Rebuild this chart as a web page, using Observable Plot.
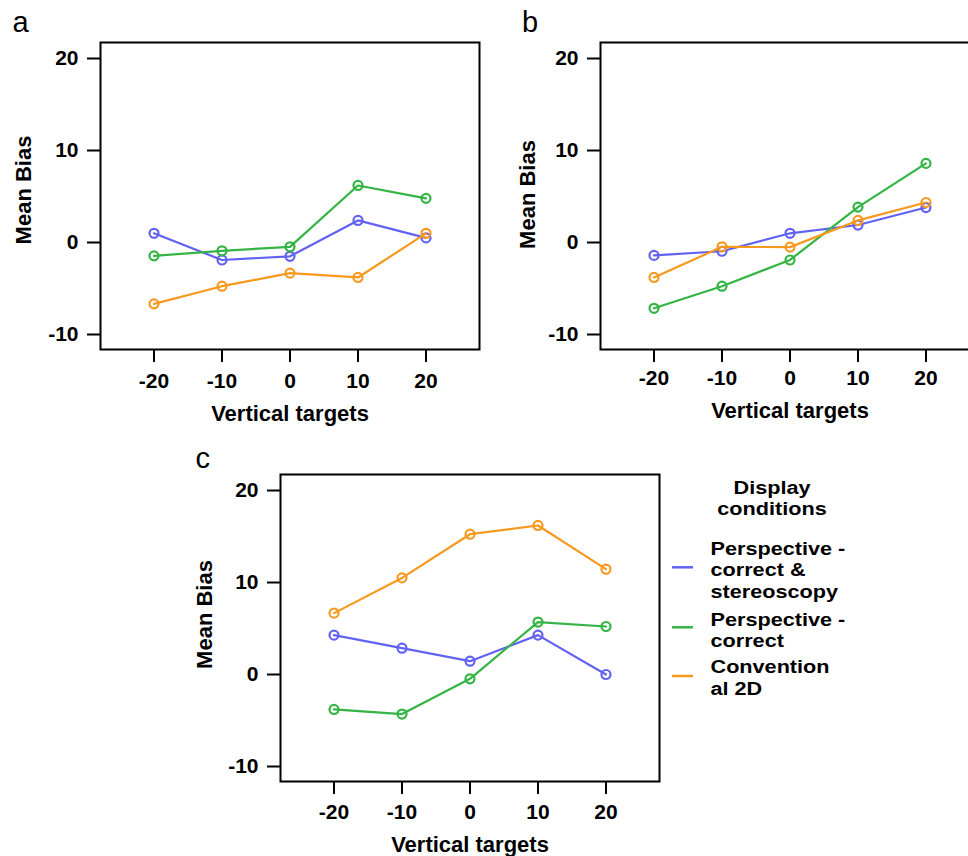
<!DOCTYPE html>
<html><head><meta charset="utf-8">
<script src="https://cdn.jsdelivr.net/npm/d3@7"></script>
<script src="https://cdn.jsdelivr.net/npm/@observablehq/plot@0.6"></script>
<style>
html,body{margin:0;padding:0;background:#fff;}
#root{position:relative;width:968px;height:856px;overflow:hidden;background:#fff;font-family:'Liberation Sans',Arial,sans-serif;}
.panel{position:absolute;width:500px;}
</style></head><body><div id="root"></div>
<script>
// ---- data ----
const xTargets = [-20, -10, 0, 10, 20];
const xTickLabels = ["-20", "-10", "0", "10", "20"];
const yTicks = [-10, 0, 10, 20];
const yTickLabels = ["-10", "0", "10", "20"];
const xAxisLabel = "Vertical targets";
const yAxisLabel = "Mean Bias";
const panelLetters = ["a", "b", "c"];
const seriesNames = ["Perspective - correct & stereoscopy", "Perspective - correct", "Conventional 2D"];
const seriesColors = ["#6262f2", "#34b444", "#f7991f"];
const legendTitle = ["Display", "conditions"];
const legendLabelLines = [["Perspective -", "correct &", "stereoscopy"], ["Perspective -", "correct"], ["Convention", "al 2D"]];

const panelA_stereo = [1.0, -1.9, -1.5, 2.4, 0.5];
const panelA_persp  = [-1.45, -0.9, -0.47, 6.2, 4.8];
const panelA_conv   = [-6.67, -4.75, -3.33, -3.8, 1.0];
const panelB_stereo = [-1.4, -0.95, 1.0, 1.9, 3.8];
const panelB_persp  = [-7.15, -4.75, -1.9, 3.85, 8.6];
const panelB_conv   = [-3.8, -0.47, -0.5, 2.4, 4.35];
const panelC_stereo = [4.28, 2.86, 1.45, 4.28, 0.0];
const panelC_persp  = [-3.8, -4.3, -0.47, 5.7, 5.22];
const panelC_conv   = [6.67, 10.5, 15.25, 16.2, 11.45];

const panelSeries = [
  [panelA_stereo, panelA_persp, panelA_conv],
  [panelB_stereo, panelB_persp, panelB_conv],
  [panelC_stereo, panelC_persp, panelC_conv]
];

// ---- layout ----
const FONT = "'Liberation Sans', Arial, Helvetica, sans-serif";
const panelLayout = [
  {left: 0,   top: 0,   letterDx: -88,   letterDy: -11,   ylabDx: -69.5, ylabDy: -6,    xTickPad: 11, xlabDy: 71.5},
  {left: 500, top: 0,   letterDx: -78.5, letterDy: -10.5, ylabDx: -66,   ylabDy: -1.5,  xTickPad: 8,  xlabDy: 68.5},
  {left: 180, top: 432, letterDx: -85,   letterDy: -6.5,  ylabDx: -68.5, ylabDy: -13.5, xTickPad: 10, xlabDy: 70.5}
];

const root = document.getElementById("root");

function makePanel(p) {
  const L = panelLayout[p];
  const marks = [];
  panelSeries[p].forEach((vals, s) => {
    const rows = xTargets.map((x, i) => ({x, y: vals[i], series: seriesNames[s]}));
    marks.push(Plot.line(rows, {x: "x", y: "y", stroke: "series", strokeWidth: 2.2}));
    marks.push(Plot.dot(rows, {x: "x", y: "y", stroke: "series", r: 4.5, strokeWidth: 2.2, fill: "none"}));
  });
  const chart = Plot.plot({
    width: 500, height: 429,
    marginLeft: 100, marginRight: 21, marginTop: 42, marginBottom: 80,
    x: {domain: [-27.87, 27.87]},
    y: {domain: [-11.63, 21.74]},
    color: {domain: seriesNames, range: seriesColors},
    style: {fontFamily: FONT, fontSize: "21px", fontWeight: "bold", color: "black", background: "white", overflow: "visible"},
    marks: [
      Plot.axisY(yTicks, {tickSize: 13, tickPadding: 9, tickFormat: d => yTickLabels[yTicks.indexOf(d)], stroke: "black", strokeWidth: 2, fontSize: 21, label: null}),
      Plot.axisX(xTargets, {tickSize: 13, tickPadding: L.xTickPad, tickFormat: d => xTickLabels[xTargets.indexOf(d)], stroke: "black", strokeWidth: 2, fontSize: 21, label: null}),
      ...marks,
      Plot.frame({stroke: "black", strokeWidth: 2}),
      Plot.text([xAxisLabel], {text: d => d, frameAnchor: "bottom", dy: L.xlabDy, textAnchor: "middle", lineAnchor: "bottom", fontSize: 22, fontWeight: "bold"}),
      Plot.text([yAxisLabel], {text: d => d, frameAnchor: "left", dx: L.ylabDx, dy: L.ylabDy, rotate: -90, textAnchor: "middle", lineAnchor: "bottom", fontSize: 22, fontWeight: "bold"}),
      Plot.text([panelLetters[p]], {text: d => d, frameAnchor: "top-left", dx: L.letterDx, dy: L.letterDy, textAnchor: "start", lineAnchor: "bottom", fontSize: 29, fontWeight: "normal"})
    ]
  });
  const div = document.createElement("div");
  div.className = "panel";
  div.style.left = L.left + "px";
  div.style.top = L.top + "px";
  div.appendChild(chart);
  root.appendChild(div);
}
[0, 1, 2].forEach(makePanel);

// ---- legend ----
const legDiv = document.createElement("div");
legDiv.className = "panel";
legDiv.style.left = "660px";
legDiv.style.top = "460px";
legDiv.style.width = "308px";
root.appendChild(legDiv);
const LEG_FS = 19, LEG_SX = 1.14, LEG_LH = 21.4;
const leg = d3.select(legDiv).append("svg").attr("width", 308).attr("height", 250)
  .style("font-family", FONT).style("font-weight", "bold").style("font-size", LEG_FS + "px");
const titleText = leg.append("text").attr("transform", `translate(112,0) scale(${LEG_SX},1)`)
  .attr("x", 0).attr("y", 34).attr("text-anchor", "middle");
legendTitle.forEach((t, i) => titleText.append("tspan").attr("x", 0).attr("dy", i === 0 ? 0 : LEG_LH).text(t));
const itemTop = [95, 165.7, 213.3];
const lineY = [107.3, 167.3, 216];
legendLabelLines.forEach((lines, s) => {
  leg.append("line").attr("x1", 12).attr("x2", 33).attr("y1", lineY[s]).attr("y2", lineY[s])
    .attr("stroke", seriesColors[s]).attr("stroke-width", 2.5);
  const txt = leg.append("text").attr("transform", `translate(50.5,0) scale(${LEG_SX},1)`)
    .attr("x", 0).attr("y", itemTop[s]);
  lines.forEach((t, j) => txt.append("tspan").attr("x", 0).attr("dy", j === 0 ? 0 : LEG_LH).text(t));
});
</script></body></html>
